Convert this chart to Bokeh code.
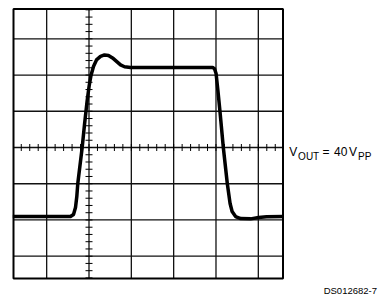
import numpy as np
from bokeh.plotting import figure
from bokeh.models import Label
from bokeh.embed import file_html
from bokeh.resources import INLINE

# Oscilloscope trace, in screen divisions (10 V/div vertical)
t_div = [-1.80, -0.437, -0.366, -0.319, -0.288, -0.265, -0.213, -0.161, -0.106,
         -0.043, 0.005, 0.047, 0.106, 0.177, 0.272, 0.366, 0.461, 0.556, 0.650,
         0.745, 0.839, 0.981, 2.920, 2.967, 3.002, 3.045, 3.092, 3.173, 3.267,
         3.333, 3.381, 3.463, 3.582, 3.818, 4.007, 4.196, 4.59]
v_div = [-1.906, -1.906, -1.851, -1.657, -1.354, -0.994, -0.497, 0.0, 0.635,
         1.298, 1.713, 1.989, 2.238, 2.417, 2.514, 2.555, 2.541, 2.472, 2.376,
         2.279, 2.229, 2.210, 2.210, 2.168, 2.044, 1.575, 1.022, 0.0, -0.994,
         -1.547, -1.768, -1.906, -1.961, -1.970, -1.934, -1.914, -1.906]

grid_x = [-1, 0, 1, 2, 3, 4]
grid_y = [-3, -2, -1, 0, 1, 2, 3]
minor_step = 0.2

label_parts = ["V", "OUT", "=", "40", "V", "PP"]
label_sub = [False, True, False, False, False, True]
footnote = "DS012682-7"

# layout (canvas pixels)
W, H = 380, 295
PX_X = 42.33   # px per division
PX_Y = 36.23
CX, CY = 88.5, 147.0   # canvas position of the centre lines

def dx(px):
    return (px - CX) / PX_X

def dy(py):
    return (CY - py) / PX_Y

# visible part of the scope screen
scope_l, scope_r = dx(13.0), dx(282.5)
scope_t, scope_b = dy(8.5), dy(278.0)

p = figure(width=W, height=H,
           x_range=(dx(0), dx(W)), y_range=(dy(H), dy(0)),
           x_axis_type=None, y_axis_type=None,
           toolbar_location=None, output_backend="svg",
           min_border=0, outline_line_color=None,
           background_fill_color="white", border_fill_color="white")

# graticule
p.segment(x0=grid_x, y0=[scope_b] * len(grid_x), x1=grid_x, y1=[scope_t] * len(grid_x),
          line_color="#111111", line_width=1.3)
p.segment(x0=[scope_l] * len(grid_y), y0=grid_y, x1=[scope_r] * len(grid_y), y1=grid_y,
          line_color="#111111", line_width=1.3)

# minor ticks on the centre lines
tx = np.arange(np.ceil(scope_l / minor_step), np.floor(scope_r / minor_step) + 1) * minor_step
ty = np.arange(np.ceil(scope_b / minor_step), np.floor(scope_t / minor_step) + 1) * minor_step
p.scatter(tx, np.zeros_like(tx), marker="dash", size=7, angle=np.pi / 2,
          line_color="black", line_width=1)
p.scatter(np.zeros_like(ty), ty, marker="dash", size=7,
          line_color="black", line_width=1)

# screen border
p.quad(left=[scope_l], right=[scope_r], bottom=[scope_b], top=[scope_t],
       fill_color=None, line_color="black", line_width=2)

p.line(t_div, v_div, line_width=3.5, line_color="black", line_join="round")

# V_OUT = 40 V_PP
xs_px = [288.8, 297.6, 322.0, 333.5, 348.6, 357.6]
for txt, sub, xp in zip(label_parts, label_sub, xs_px):
    p.add_layout(Label(x=dx(xp), y=dy(156.3 if sub else 151.0), text=txt,
                       text_font="Liberation Sans",
                       text_font_size="10px" if sub else "12px",
                       text_color="black", text_baseline="alphabetic"))

p.add_layout(Label(x=dx(376.5), y=dy(289.5), text=footnote,
                   text_font="Liberation Sans", text_font_size="9.5px",
                   text_color="black", text_baseline="alphabetic", text_align="right"))

open("out.html", "w").write(file_html(p, INLINE))
